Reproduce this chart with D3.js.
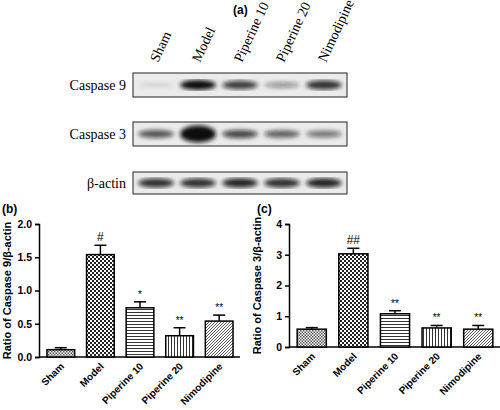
<!DOCTYPE html><html><head><script src="https://cdn.jsdelivr.net/npm/d3@7"></script>
<style>body{margin:0;background:#fff}</style></head><body><svg id="s" width="500" height="410"></svg>
<script>
const groups=["Sham","Model","Piperine 10","Piperine 20","Nimodipine"];
const cas9=[0.11,1.54,0.74,0.32,0.54], cas9Err=[0.03,0.14,0.09,0.12,0.09], cas9Sig=["","#","*","**","**"];
const cas3=[0.58,3.03,1.08,0.62,0.58], cas3Err=[0.05,0.18,0.10,0.08,0.12], cas3Sig=["","##","**","**","**"];
const ticksB=[0,0.5,1.0,1.5,2.0], ticksC=[0,1,2,3,4];
const blotRows=["Caspase 9","Caspase 3","β-actin"];
const band9=[0.12,1.0,0.8,0.4,0.85], band3=[0.7,1.0,0.75,0.65,0.55], bandA=[0.85,0.85,0.9,0.85,0.9];
const svg=d3.select("#s");
const defs=svg.append("defs");
defs.append("filter").attr("id","blur").append("feGaussianBlur").attr("stdDeviation",2);
function pat(id,size,draw){const p=defs.append("pattern").attr("id",id).attr("patternUnits","userSpaceOnUse").attr("width",size).attr("height",size);p.append("rect").attr("width",size).attr("height",size).attr("fill","#fff");draw(p);}
pat("p0",3,p=>{p.append("rect").attr("width",1.5).attr("height",1.5).attr("fill","#555");p.append("rect").attr("x",1.5).attr("y",1.5).attr("width",1.5).attr("height",1.5).attr("fill","#555");});
pat("p1",4,p=>{p.append("rect").attr("width",2).attr("height",2).attr("fill","#222");p.append("rect").attr("x",2).attr("y",2).attr("width",2).attr("height",2).attr("fill","#222");});
pat("p2",3,p=>p.append("rect").attr("width",3).attr("height",1).attr("fill","#333"));
pat("p3",3,p=>p.append("rect").attr("width",1).attr("height",3).attr("fill","#333"));
pat("p4",3,p=>p.append("path").attr("d","M0,3L3,0M-1,1L1,-1M2,4L4,2").attr("stroke","#333").attr("stroke-width",0.8));
svg.append("text").attr("x",233).attr("y",14).text("(a)").attr("font-family","Arial").attr("font-weight","bold").attr("font-size",12);
const lx=d3.scaleBand().domain(groups).range([133,347]).padding(0.1);
groups.forEach(g=>svg.append("text").attr("transform",`translate(${lx(g)+lx.bandwidth()/2+2},${63}) rotate(-65)`).text(g).attr("font-family","Liberation Serif").attr("font-size",14));
const rowY=[73,122,172], rowH=[24,24,22], bands=[band9,band3,bandA];
blotRows.forEach((r,i)=>{
 svg.append("rect").attr("x",133).attr("y",rowY[i]).attr("width",214).attr("height",rowH[i]).attr("fill","#ebebeb").attr("stroke","#222");
 svg.append("text").attr("x",126).attr("y",rowY[i]+rowH[i]/2+5).attr("text-anchor","end").text(r).attr("font-family","Liberation Serif").attr("font-size",14);
 const gB=svg.append("g").attr("filter","url(#blur)");
 groups.forEach((g,j)=>{const v=bands[i][j];gB.append("ellipse").attr("cx",lx(g)+lx.bandwidth()/2).attr("cy",rowY[i]+rowH[i]/2).attr("rx",lx.bandwidth()/2-1).attr("ry",1.5+v*(i==1&&j==1?7:3.5)).attr("fill","#111").attr("opacity",v);});
});
function chart(x0,x1,yTop,y0,vals,errs,sig,ticks,max,label,tag,fmt){
 const x=d3.scaleBand().domain(groups).range([x0+4,x1]).paddingInner(0.3).paddingOuter(0.1);
 const y=d3.scaleLinear().domain([0,max]).range([y0,yTop]);
 const g=svg.append("g");
 g.append("g").attr("transform",`translate(${x0},0)`).call(d3.axisLeft(y).tickValues(ticks).tickFormat(d3.format(fmt)).tickSize(4)).call(a=>{a.selectAll("text").attr("font-family","Arial").attr("font-weight","bold").attr("font-size",10.5);a.selectAll("path,line").attr("stroke-width",1.5);});
 g.append("line").attr("x1",x0).attr("x2",x1+3).attr("y1",y0).attr("y2",y0).attr("stroke","#000").attr("stroke-width",1.5);
 groups.forEach((c,i)=>{
  const cx=x(c)+x.bandwidth()/2, top=y(vals[i]+errs[i]);
  g.append("line").attr("x1",cx).attr("x2",cx).attr("y1",y(vals[i])).attr("y2",top).attr("stroke","#000").attr("stroke-width",1.5);
  g.append("line").attr("x1",cx-6).attr("x2",cx+6).attr("y1",top).attr("y2",top).attr("stroke","#000").attr("stroke-width",1.5);
  g.append("rect").attr("x",x(c)).attr("y",y(vals[i])).attr("width",x.bandwidth()).attr("height",y0-y(vals[i])).attr("fill",`url(#p${i})`).attr("stroke","#000").attr("stroke-width",1.5);
  if(sig[i])g.append("text").attr("x",cx).attr("y",top-4).attr("text-anchor","middle").text(sig[i]).attr("font-family","Arial").attr("font-size",sig[i].includes("#")?12:10);
  g.append("text").attr("transform",`translate(${cx+4},${y0+10}) rotate(-45)`).attr("text-anchor","end").text(c).attr("font-family","Arial").attr("font-weight","bold").attr("font-size",10);
 });
 g.append("text").attr("transform",`translate(${x0-28},${(yTop+y0)/2}) rotate(-90)`).attr("text-anchor","middle").text(label).attr("font-family","Arial").attr("font-weight","bold").attr("font-size",11);
 svg.append("text").attr("x",x0-37+(tag=="(c)"?5:0)).attr("y",213).text(tag).attr("font-family","Arial").attr("font-weight","bold").attr("font-size",12);
}
chart(39,237,224,357,cas9,cas9Err,cas9Sig,ticksB,2,"Ratio of Caspase 9/β-actin","(b)",".1f");
chart(289,497,224,347,cas3,cas3Err,cas3Sig,ticksC,4,"Ratio of Caspase 3/β-actin","(c)","d");
</script></body></html>
